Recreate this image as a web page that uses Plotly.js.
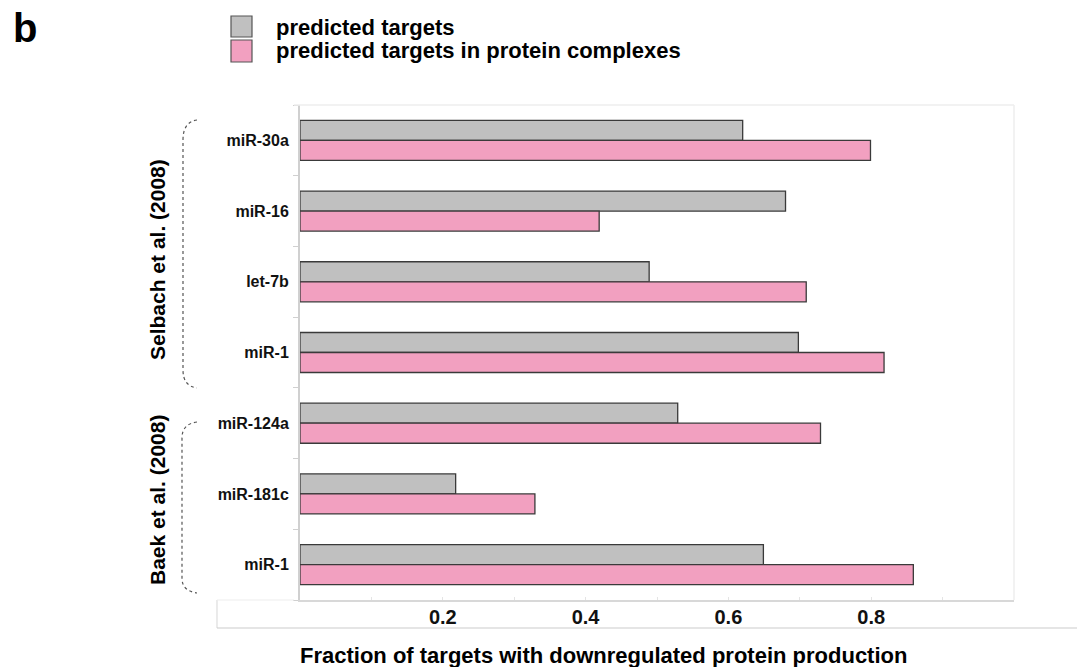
<!DOCTYPE html>
<html>
<head>
<meta charset="utf-8">
<script src="https://cdn.plot.ly/plotly-3.0.1.min.js"></script>
<style>html,body{margin:0;padding:0;background:#fff;}#chart{width:1077px;height:667px;}</style>
</head>
<body>
<div id="chart"></div>
<script>
// ---- data ----
const categories = ["miR-30a", "miR-16", "let-7b", "miR-1", "miR-124a", "miR-181c", "miR-1"];
const predictedTargets = [0.620, 0.680, 0.489, 0.698, 0.529, 0.218, 0.649];
const predictedInComplexes = [0.799, 0.419, 0.709, 0.818, 0.729, 0.329, 0.859];
const xTickVals = [0.2, 0.4, 0.6, 0.8];
const xTickText = ["0.2", "0.4", "0.6", "0.8"];
const seriesNames = ["predicted targets", "predicted targets in protein complexes"];
const groupLabels = ["Selbach et al. (2008)", "Baek et al. (2008)"];
const xTitle = "Fraction of targets with downregulated protein production";

// unique ids for categories (miR-1 appears twice)
const catIds = categories.map((c, i) => i + "|" + c);

const FONT = "Liberation Sans, Arial, Helvetica, sans-serif";
const GRAY = "#c0c0c0", PINK = "#f2a0c0", EDGE = "#3a3a3a";

// layout helpers (pixel -> paper)
const L = 300, R = 1014, T = 105, B = 600;
const px = x => (x - L) / (R - L);
const py = y => (B - y) / (B - T);
function path(cmds) {
  return cmds.map(c => c[0] + " " + c.slice(1).map((v, i) => (i % 2 === 0 ? px(v) : py(v)).toFixed(5)).join(",")).join(" ");
}

const traces = [
  {type: "bar", orientation: "h", name: seriesNames[0], y: catIds, x: predictedTargets,
   marker: {color: GRAY, line: {color: EDGE, width: 1.3}}, showlegend: false},
  {type: "bar", orientation: "h", name: seriesNames[1], y: catIds, x: predictedInComplexes,
   marker: {color: PINK, line: {color: EDGE, width: 1.3}}, showlegend: false}
];

const layout = {
  width: 1077, height: 667,
  margin: {l: L, r: 1077 - R, t: T, b: 667 - B},
  paper_bgcolor: "#fff", plot_bgcolor: "#fff",
  barmode: "group", bargap: 0.434, bargroupgap: 0,
  font: {family: FONT, color: "#111"},
  xaxis: {
    range: [0, 1], tickmode: "array", tickvals: xTickVals, ticktext: xTickText,
    showgrid: false, zeroline: false, showline: true, linecolor: "#d8d8d8", linewidth: 2,
    mirror: false, ticks: "inside", ticklen: 3, tickcolor: "#e4e4e4",
    minor: {dtick: 0.1, ticks: "inside", ticklen: 3, tickcolor: "#e4e4e4"},
    tickfont: {family: FONT, size: 20, weight: "bold", color: "#111"},
    ticklabelstandoff: -2, fixedrange: true
  },
  yaxis: {
    type: "category", autorange: "reversed",
    tickmode: "array", tickvals: catIds, ticktext: categories,
    tickson: "boundaries", ticks: "outside", ticklen: 5, tickcolor: "#d0d0d0",
    showgrid: false, zeroline: false, showline: true, linecolor: "#d0d0d0", linewidth: 2,
    tickfont: {family: FONT, size: 16, weight: "bold", color: "#111"},
    ticklabelstandoff: 6, fixedrange: true
  },
  shapes: [
    // faint plot frame top/right
    {type: "line", xref: "paper", yref: "paper", x0: px(294), x1: 1, y0: 1, y1: 1, line: {color: "#eeeeee", width: 1.5}},
    {type: "line", xref: "paper", yref: "paper", x0: 1, x1: 1, y0: 0, y1: 1, line: {color: "#eeeeee", width: 1.5}},
    // box under tick labels
    {type: "line", xref: "paper", yref: "paper", x0: px(217), x1: px(217), y0: py(600), y1: py(628), line: {color: "#dddddd", width: 1.2}},
    {type: "line", xref: "paper", yref: "paper", x0: px(217), x1: px(1077), y0: py(628), y1: py(628), line: {color: "#cccccc", width: 1.2}},
    {type: "line", xref: "paper", yref: "paper", x0: px(217), x1: px(294), y0: py(600), y1: py(600), line: {color: "#eeeeee", width: 1.2}},
    // legend swatches
    {type: "rect", xref: "paper", yref: "paper", x0: px(231), x1: px(252), y0: py(16), y1: py(37), fillcolor: GRAY, line: {color: "#555", width: 1.2}},
    {type: "rect", xref: "paper", yref: "paper", x0: px(231), x1: px(252), y0: py(40), y1: py(62), fillcolor: PINK, line: {color: "#555", width: 1.2}},
    // dotted brackets
    {type: "path", xref: "paper", yref: "paper", line: {color: "#555", width: 1.2, dash: "dot"},
     path: path([["M", 197, 120], ["Q", 183, 122, 183, 140], ["L", 183, 370], ["Q", 183, 386, 197, 388]])},
    {type: "path", xref: "paper", yref: "paper", line: {color: "#555", width: 1.2, dash: "dot"},
     path: path([["M", 197, 422], ["Q", 182, 424, 182, 438], ["L", 182, 578], ["Q", 182, 591, 197, 593]])}
  ],
  annotations: [
    {text: "b", xref: "paper", yref: "paper", x: px(11), y: py(28), xanchor: "left", yanchor: "middle",
     showarrow: false, font: {family: FONT, size: 40, weight: "bold", color: "#000"}},
    {text: seriesNames[0], xref: "paper", yref: "paper", x: px(274), y: py(27), xanchor: "left", yanchor: "middle",
     showarrow: false, font: {family: FONT, size: 22, weight: "bold", color: "#000"}},
    {text: seriesNames[1], xref: "paper", yref: "paper", x: px(274), y: py(51), xanchor: "left", yanchor: "middle",
     showarrow: false, font: {family: FONT, size: 22, weight: "bold", color: "#000"}},
    {text: groupLabels[0], xref: "paper", yref: "paper", x: px(157), y: py(260), xanchor: "center", yanchor: "middle",
     textangle: -90, showarrow: false, font: {family: FONT, size: 21, weight: "bold", color: "#000"}},
    {text: groupLabels[1], xref: "paper", yref: "paper", x: px(157), y: py(500), xanchor: "center", yanchor: "middle",
     textangle: -90, showarrow: false, font: {family: FONT, size: 21, weight: "bold", color: "#000"}},
    {text: xTitle, xref: "paper", yref: "paper", x: px(298), y: py(655), xanchor: "left", yanchor: "middle",
     showarrow: false, font: {family: FONT, size: 22, weight: "bold", color: "#000"}}
  ]
};

Plotly.newPlot("chart", traces, layout, {displayModeBar: false, staticPlot: true});
</script>
</body>
</html>
